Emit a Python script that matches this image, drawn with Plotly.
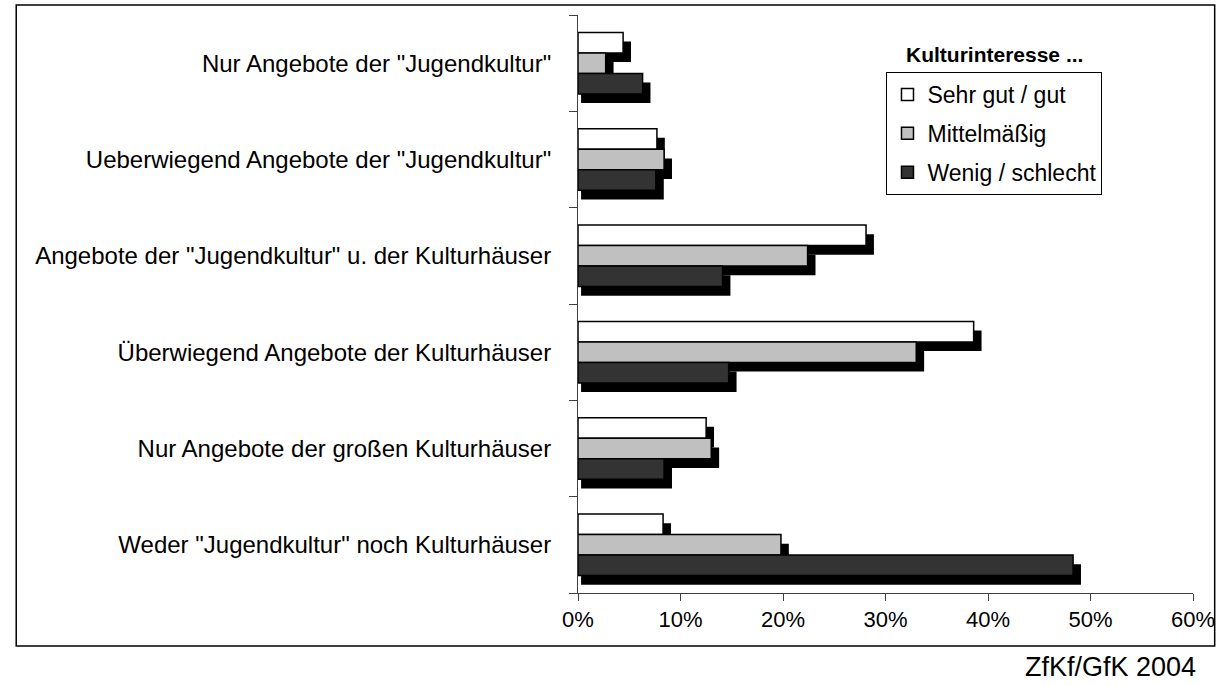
import plotly.graph_objects as go

# categories top to bottom
categories = [
    'Nur Angebote der "Jugendkultur"',
    'Ueberwiegend Angebote der "Jugendkultur"',
    'Angebote der "Jugendkultur" u. der Kulturhäuser',
    'Überwiegend Angebote der Kulturhäuser',
    'Nur Angebote der großen Kulturhäuser',
    'Weder "Jugendkultur" noch Kulturhäuser',
]
series_names = ["Sehr gut / gut", "Mittelmäßig", "Wenig / schlecht"]
sehr_gut = [4.4, 7.7, 28.1, 38.6, 12.5, 8.3]
mittel = [2.7, 8.4, 22.4, 33.0, 13.0, 19.8]
wenig = [6.3, 7.6, 14.1, 14.7, 8.4, 48.3]
x_ticks = [0, 10, 20, 30, 40, 50, 60]

FONT = "Liberation Sans, Arial, sans-serif"
COLORS = ["#FFFFFF", "#C0C0C0", "#333333"]

W, H = 1227, 685
ML, MR, MT, MB = 578, 25, 15, 92
PW, PH = W - ML - MR, H - MT - MB


def px_x(p):
    return (p - ML) / PW


def px_y(p):
    return (H - MB - p) / PH


n = len(categories)
centers = [n - 0.5 - i for i in range(n)]
bar_w = 0.213
offsets = [bar_w, 0.0, -bar_w]
dx = 0.77   # shadow shift, in % units (~8px)
dy = 0.095  # shadow shift, in category units (~9px)

fig = go.Figure()

all_vals = [sehr_gut, mittel, wenig]

# shadows first
for vals, off in zip(all_vals, offsets):
    fig.add_trace(go.Bar(
        x=[v / 100 + dx / 100 - 0.003 for v in vals],
        base=0.003,
        y=[c + off - dy for c in centers],
        width=bar_w,
        orientation="h",
        marker=dict(color="black", line=dict(width=0)),
        showlegend=False,
        hoverinfo="skip",
    ))

for name, vals, off, col in zip(series_names, all_vals, offsets, COLORS):
    fig.add_trace(go.Bar(
        x=[v / 100 for v in vals],
        y=[c + off for c in centers],
        width=bar_w,
        orientation="h",
        name=name,
        legendgroup=name,
        marker=dict(color=col, line=dict(color="black", width=1.5)),
    ))

fig.update_layout(
    width=W, height=H,
    barmode="overlay",
    paper_bgcolor="white",
    plot_bgcolor="white",
    margin=dict(l=ML, r=MR, t=MT, b=MB),
    font=dict(family=FONT, size=21, color="black"),
    xaxis=dict(
        range=[0, 0.6],
        tickvals=[t / 100 for t in x_ticks],
        ticktext=[f"{t}%" for t in x_ticks],
        showgrid=False, zeroline=False,
        showline=True, linecolor="#404040", linewidth=1,
        ticks="outside", ticklen=7, tickcolor="#404040",
        tickfont=dict(size=22),
    ),
    yaxis=dict(
        range=[0, n],
        tickvals=centers,
        ticktext=categories,
        showgrid=False, zeroline=False,
        showline=True, linecolor="#404040", linewidth=1,
        ticks="", ticklabelstandoff=21,
        minor=dict(tickvals=list(range(n + 1)), ticks="outside",
                   ticklen=8, tickcolor="#404040", showgrid=False),
        tickfont=dict(size=24),
    ),
    legend=dict(
        x=px_x(891), y=px_y(72), xanchor="left", yanchor="top",
        bgcolor="white", bordercolor="black", borderwidth=1,
        font=dict(size=23), traceorder="grouped",
        tracegroupgap=6, itemwidth=30,
    ),
    showlegend=True,
    annotations=[
        dict(text="<b>Kulturinteresse ...</b>", x=px_x(1001), y=px_y(54),
             xref="paper", yref="paper", showarrow=False,
             xanchor="center", yanchor="middle", font=dict(size=21)),
        dict(text="ZfKf/GfK 2004", x=px_x(1207), y=px_y(667),
             xref="paper", yref="paper", showarrow=False,
             xanchor="right", yanchor="middle", font=dict(size=27)),
    ],
    shapes=[
        dict(type="rect", xref="paper", yref="paper",
             x0=px_x(8), x1=px_x(1224), y0=px_y(646), y1=px_y(5),
             line=dict(color="black", width=1.5), layer="below"),
    ],
)

fig.write_html(
    "out.html",
    config={"displayModeBar": False},
    post_script=(
        "document.documentElement.style.overflow='hidden';"
        "document.body.style.overflow='hidden';"
        "document.body.style.margin='0';"
    ),
)
